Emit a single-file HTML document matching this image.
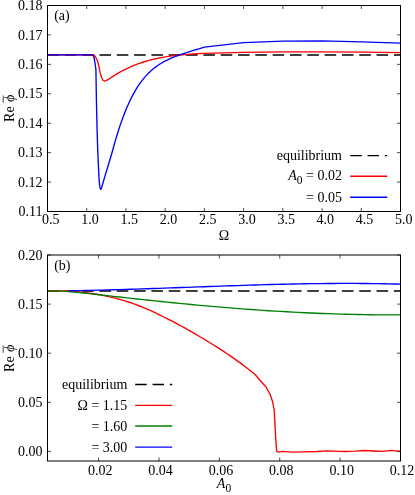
<!DOCTYPE html>
<html><head><meta charset="utf-8"><style>
html,body{margin:0;padding:0;background:#fff;}
svg{display:block;will-change:transform;}
text{font-family:"Liberation Serif",serif;font-size:14px;fill:#000;}
.it{font-style:italic;}
</style></head><body>
<svg width="415" height="495" viewBox="0 0 415 495">
<rect width="415" height="495" fill="#fff"/>
<g fill="none" stroke-linejoin="round">
<line x1="47.5" y1="54.95" x2="400.5" y2="54.95" stroke="#000" stroke-width="1.5" stroke-dasharray="11.55,5.77"/>
<polyline points="47.50,54.90 93.30,54.90 94.30,55.40 95.50,57.00 96.60,59.00 97.70,61.50 99.00,67.00 100.20,72.90 101.50,77.30 102.80,80.00 104.40,81.00 106.00,80.60 108.50,79.33 110.13,78.20 111.75,77.11 113.38,76.06 115.00,75.04 116.63,74.05 118.25,73.09 119.88,72.17 121.50,71.28 123.13,70.41 124.75,69.58 126.38,68.78 128.01,68.01 129.63,67.27 131.26,66.55 132.88,65.86 134.51,65.20 136.13,64.56 137.76,63.95 139.38,63.36 141.01,62.80 142.63,62.26 144.26,61.75 145.88,61.26 147.51,60.79 149.14,60.34 150.76,59.91 152.39,59.50 154.01,59.11 155.64,58.74 157.26,58.38 158.89,58.05 160.51,57.73 162.14,57.43 163.76,57.14 165.39,56.87 167.02,56.61 168.64,56.37 170.27,56.14 171.89,55.92 173.52,55.72 175.14,55.52 176.77,55.34 178.39,55.17 180.02,55.01 181.64,54.86 183.27,54.71 184.89,54.58 186.52,54.45 188.15,54.32 189.77,54.21 191.40,54.10 193.02,53.99 194.65,53.89 196.27,53.79 197.90,53.70 199.52,53.60 201.15,53.51 202.77,53.42 204.40,53.34 243.60,52.30 282.80,51.80 322.00,51.80 361.30,52.20 400.50,52.70" stroke="#f00" stroke-width="1.35"/>
<polyline points="47.50,54.90 92.30,54.90 93.20,55.50 94.00,57.50 94.70,61.00 95.30,65.00 95.90,69.30 96.40,100.00 97.10,130.00 97.80,152.00 98.40,165.00 99.00,178.00 99.60,185.00 100.20,188.50 100.80,189.40 101.40,188.40 102.00,186.20 103.20,182.00 105.20,175.40 107.50,167.70 109.90,159.80 112.70,150.24 114.25,144.54 115.81,139.12 117.36,133.95 118.92,129.04 120.47,124.38 122.03,119.95 123.58,115.75 125.13,111.77 126.69,108.01 128.24,104.45 129.80,101.09 131.35,97.91 132.91,94.93 134.46,92.11 136.01,89.46 137.57,86.97 139.12,84.63 140.68,82.43 142.23,80.36 143.78,78.43 145.34,76.61 146.89,74.90 148.45,73.29 150.00,71.78 151.56,70.36 153.11,69.02 154.66,67.77 156.22,66.59 157.77,65.48 159.33,64.44 160.88,63.46 162.44,62.54 163.99,61.68 165.54,60.86 167.10,60.09 168.65,59.35 170.21,58.65 171.76,57.98 173.32,57.34 174.87,56.71 176.42,56.11 177.98,55.53 179.53,54.96 181.09,54.41 182.64,53.88 184.19,53.36 185.75,52.85 187.30,52.35 188.86,51.86 190.41,51.38 191.97,50.90 193.52,50.43 195.07,49.96 196.63,49.50 198.18,49.03 199.74,48.57 201.29,48.10 202.85,47.62 204.40,47.15 243.60,42.70 282.80,41.20 322.00,40.80 361.30,41.80 400.50,43.10" stroke="#00f" stroke-width="1.35"/>
</g>
<rect x="47.5" y="5.5" width="353.0" height="206.0" fill="none" stroke="#000" stroke-width="1"/>
<path d="M47.50,211.5v-3.5 M47.50,5.5v3.5 M86.72,211.5v-3.5 M86.72,5.5v3.5 M125.94,211.5v-3.5 M125.94,5.5v3.5 M165.17,211.5v-3.5 M165.17,5.5v3.5 M204.39,211.5v-3.5 M204.39,5.5v3.5 M243.61,211.5v-3.5 M243.61,5.5v3.5 M282.83,211.5v-3.5 M282.83,5.5v3.5 M322.06,211.5v-3.5 M322.06,5.5v3.5 M361.28,211.5v-3.5 M361.28,5.5v3.5 M400.50,211.5v-3.5 M400.50,5.5v3.5 M47.5,211.50h3.5 M400.5,211.50h-3.5 M47.5,182.07h3.5 M400.5,182.07h-3.5 M47.5,152.64h3.5 M400.5,152.64h-3.5 M47.5,123.21h3.5 M400.5,123.21h-3.5 M47.5,93.79h3.5 M400.5,93.79h-3.5 M47.5,64.36h3.5 M400.5,64.36h-3.5 M47.5,34.93h3.5 M400.5,34.93h-3.5 M47.5,5.50h3.5 M400.5,5.50h-3.5" stroke="#000" stroke-width="0.7" fill="none"/>
<text x="50.80" y="224.4" text-anchor="middle">0.5</text>
<text x="90.02" y="224.4" text-anchor="middle">1.0</text>
<text x="129.24" y="224.4" text-anchor="middle">1.5</text>
<text x="168.47" y="224.4" text-anchor="middle">2.0</text>
<text x="207.69" y="224.4" text-anchor="middle">2.5</text>
<text x="246.91" y="224.4" text-anchor="middle">3.0</text>
<text x="286.13" y="224.4" text-anchor="middle">3.5</text>
<text x="325.36" y="224.4" text-anchor="middle">4.0</text>
<text x="364.58" y="224.4" text-anchor="middle">4.5</text>
<text x="403.80" y="224.4" text-anchor="middle">5.0</text>
<text x="42.5" y="216.20" text-anchor="end">0.11</text>
<text x="42.5" y="186.77" text-anchor="end">0.12</text>
<text x="42.5" y="157.34" text-anchor="end">0.13</text>
<text x="42.5" y="127.91" text-anchor="end">0.14</text>
<text x="42.5" y="98.49" text-anchor="end">0.15</text>
<text x="42.5" y="69.06" text-anchor="end">0.16</text>
<text x="42.5" y="39.63" text-anchor="end">0.17</text>
<text x="42.5" y="10.20" text-anchor="end">0.18</text>
<text x="54.2" y="19.7">(a)</text>
<text x="224.0" y="239.9" text-anchor="middle">Ω</text>
<g transform="translate(14.3,121.9) rotate(-90)"><text x="0" y="0">Re</text><text transform="translate(19.3,0) skewX(-9)">ϕ</text><line x1="19.1" y1="-11.1" x2="26.4" y2="-11.1" stroke="#444" stroke-width="1"/></g>
<g fill="none" stroke-width="1.35">
<line x1="350.2" y1="155.6" x2="387.2" y2="155.6" stroke="#000" stroke-dasharray="11.55,5.77"/>
<line x1="350.2" y1="176.2" x2="387.2" y2="176.2" stroke="#f00"/>
<line x1="350.2" y1="197.2" x2="387.2" y2="197.2" stroke="#00f"/>
</g>
<text x="342" y="159.8" text-anchor="end">equilibrium</text>
<text x="342" y="180.4" text-anchor="end"><tspan class="it">A</tspan><tspan dy="3.5" font-size="11.5">0</tspan><tspan dy="-3.5"> = 0.02</tspan></text>
<text x="342" y="201.9" text-anchor="end">= 0.05</text>
<g fill="none" stroke-linejoin="round">
<line x1="47.5" y1="291.0" x2="400.5" y2="291.0" stroke="#000" stroke-width="1.5" stroke-dasharray="11.55,5.77"/>
<polyline points="47.50,290.71 51.02,290.69 54.53,290.71 58.05,290.77 61.56,290.86 65.08,291.00 68.59,291.17 72.11,291.39 75.62,291.66 79.14,291.97 82.65,292.33 86.17,292.74 89.68,293.20 93.20,293.71 96.71,294.28 100.23,294.90 103.74,295.57 107.26,296.31 110.77,297.10 114.29,297.96 117.81,298.87 121.32,299.85 124.84,300.90 128.35,302.01 131.87,303.18 135.38,304.43 138.90,305.75 142.41,307.14 145.93,308.60 149.44,310.12 152.96,311.70 156.47,313.34 159.99,315.03 163.50,316.76 167.02,318.54 170.53,320.36 174.05,322.21 177.56,324.09 181.08,326.00 184.59,327.94 188.11,329.90 191.63,331.89 195.14,333.91 198.66,335.96 202.17,338.04 205.69,340.14 209.20,342.28 212.72,344.45 216.23,346.65 219.75,348.90 223.26,351.19 226.78,353.52 230.29,355.90 233.81,358.34 237.32,360.83 240.84,363.38 244.35,366.00 247.87,368.68 251.38,371.43 254.90,374.25 259.70,380.00 266.20,387.30 270.20,394.50 272.60,401.80 274.20,409.90 275.00,425.20 275.80,439.80 276.70,451.20 278.50,452.10 282.60,451.30 291.90,452.10 303.70,451.80 317.20,451.50 327.30,450.80 340.00,451.30 345.10,451.50 355.20,451.10 364.50,450.50 373.80,451.00 383.00,451.30 391.50,450.30 400.50,451.30" stroke="#f00" stroke-width="1.35"/>
<polyline points="47.50,290.81 53.48,290.90 59.47,291.11 65.45,291.45 71.43,291.88 77.42,292.40 83.40,292.98 89.38,293.61 95.36,294.27 101.35,294.96 107.33,295.64 113.31,296.32 119.30,296.99 125.28,297.66 131.26,298.33 137.25,298.98 143.23,299.63 149.21,300.28 155.19,300.91 161.18,301.54 167.16,302.15 173.14,302.76 179.13,303.35 185.11,303.94 191.09,304.51 197.08,305.07 203.06,305.62 209.04,306.15 215.03,306.68 221.01,307.18 226.99,307.67 232.97,308.15 238.96,308.62 244.94,309.07 250.92,309.50 256.91,309.92 262.89,310.33 268.87,310.72 274.86,311.09 280.84,311.45 286.82,311.79 292.81,312.11 298.79,312.42 304.77,312.71 310.75,312.99 316.74,313.24 322.72,313.48 328.70,313.70 334.69,313.91 340.67,314.10 346.65,314.26 352.64,314.41 358.62,314.54 364.60,314.66 370.58,314.75 376.57,314.82 382.55,314.88 388.53,314.91 394.52,314.92 400.50,314.92" stroke="#008000" stroke-width="1.35"/>
<polyline points="69.00,290.74 74.62,290.65 80.24,290.55 85.86,290.44 91.47,290.33 97.09,290.20 102.71,290.06 108.33,289.92 113.95,289.77 119.57,289.61 125.19,289.44 130.81,289.27 136.42,289.09 142.04,288.91 147.66,288.72 153.28,288.53 158.90,288.34 164.52,288.14 170.14,287.94 175.75,287.74 181.37,287.54 186.99,287.33 192.61,287.13 198.23,286.92 203.85,286.72 209.47,286.52 215.08,286.32 220.70,286.12 226.32,285.93 231.94,285.73 237.56,285.55 243.18,285.36 248.80,285.18 254.42,285.01 260.03,284.84 265.65,284.68 271.27,284.53 276.89,284.38 282.51,284.24 288.13,284.12 293.75,283.99 299.36,283.88 304.98,283.78 310.60,283.69 316.22,283.62 321.84,283.55 327.46,283.49 333.08,283.45 338.69,283.42 344.31,283.41 349.93,283.41 355.55,283.43 361.17,283.46 366.79,283.50 372.41,283.56 378.03,283.64 383.64,283.74 389.26,283.86 394.88,283.99 400.50,284.14" stroke="#00f" stroke-width="1.35"/>
</g>
<rect x="47.5" y="255.0" width="353.0" height="206.0" fill="none" stroke="#000" stroke-width="1"/>
<path d="M98.60,461.0v-3.5 M98.60,255.0v3.5 M158.98,461.0v-3.5 M158.98,255.0v3.5 M219.36,461.0v-3.5 M219.36,255.0v3.5 M279.74,461.0v-3.5 M279.74,255.0v3.5 M340.12,461.0v-3.5 M340.12,255.0v3.5 M400.50,461.0v-3.5 M400.50,255.0v3.5 M47.5,451.40h3.5 M400.5,451.40h-3.5 M47.5,402.30h3.5 M400.5,402.30h-3.5 M47.5,353.20h3.5 M400.5,353.20h-3.5 M47.5,304.10h3.5 M400.5,304.10h-3.5 M47.5,255.00h3.5 M400.5,255.00h-3.5" stroke="#000" stroke-width="0.7" fill="none"/>
<text x="100.20" y="474.6" text-anchor="middle">0.02</text>
<text x="160.58" y="474.6" text-anchor="middle">0.04</text>
<text x="220.96" y="474.6" text-anchor="middle">0.06</text>
<text x="281.34" y="474.6" text-anchor="middle">0.08</text>
<text x="341.72" y="474.6" text-anchor="middle">0.10</text>
<text x="402.10" y="474.6" text-anchor="middle">0.12</text>
<text x="42.5" y="456.30" text-anchor="end">0.00</text>
<text x="42.5" y="407.20" text-anchor="end">0.05</text>
<text x="42.5" y="358.10" text-anchor="end">0.10</text>
<text x="42.5" y="309.00" text-anchor="end">0.15</text>
<text x="42.5" y="259.90" text-anchor="end">0.20</text>
<text x="54.2" y="270.3">(b)</text>
<text x="224.0" y="488.4" text-anchor="middle"><tspan class="it">A</tspan><tspan dy="3.5" font-size="11.5">0</tspan></text>
<g transform="translate(14.3,371.9) rotate(-90)"><text x="0" y="0">Re</text><text transform="translate(19.3,0) skewX(-9)">ϕ</text><line x1="19.1" y1="-11.1" x2="26.4" y2="-11.1" stroke="#444" stroke-width="1"/></g>
<g fill="none" stroke-width="1.35">
<line x1="135.2" y1="384.5" x2="172.2" y2="384.5" stroke="#000" stroke-dasharray="11.55,5.77"/>
<line x1="135.2" y1="405.4" x2="172.2" y2="405.4" stroke="#f00"/>
<line x1="135.2" y1="426" x2="172.2" y2="426" stroke="#008000"/>
<line x1="135.2" y1="447.1" x2="172.2" y2="447.1" stroke="#00f"/>
</g>
<text x="127.3" y="389.2" text-anchor="end">equilibrium</text>
<text x="127.3" y="410.2" text-anchor="end">Ω = 1.15</text>
<text x="127.3" y="430.7" text-anchor="end">= 1.60</text>
<text x="127.3" y="451.7" text-anchor="end">= 3.00</text>
</svg></body></html>
